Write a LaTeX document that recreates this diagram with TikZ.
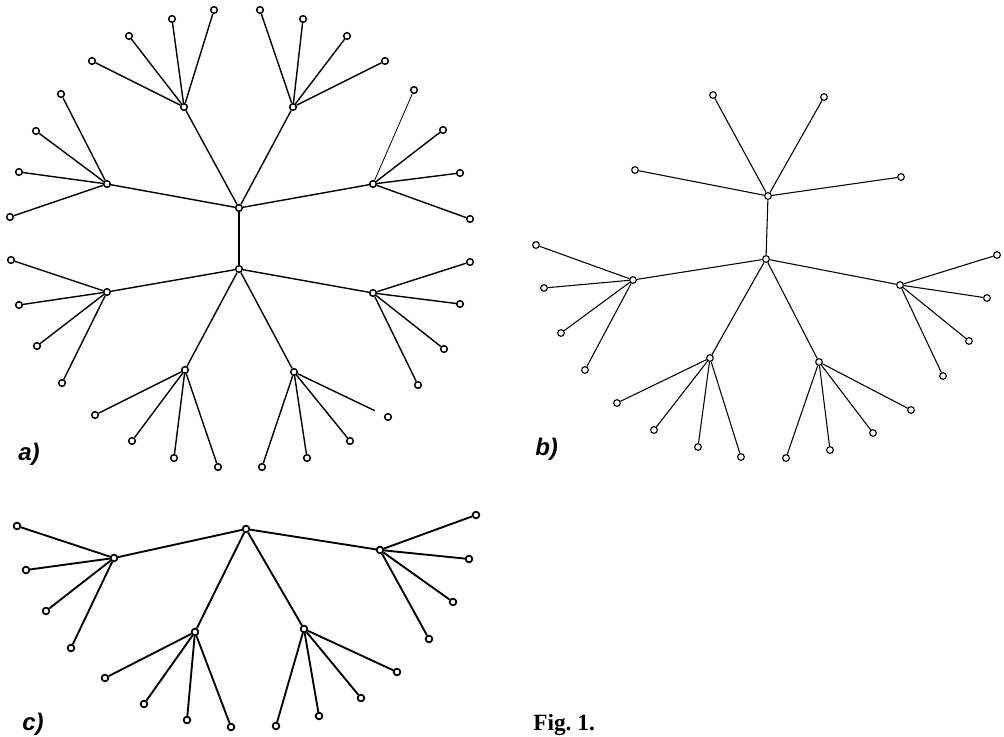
\documentclass[tikz,border=0pt]{standalone}
\usepackage{fontspec}
\newfontfamily\labfont{Liberation Sans}
\newfontfamily\capfont{Liberation Serif}
\tikzset{
  px/.style={x=0.75pt,y=-0.75pt},
  vx/.style={circle,draw,fill=white,inner sep=0pt,minimum size=5pt},
  edge/.style={line width=1.05pt},
  edgeb/.style={line width=0.8pt},
  edgec/.style={line width=1.4pt},
  tag/.style={font=\labfont\bfseries\itshape\fontsize{18}{18}\selectfont,inner sep=0pt},
}
\begin{document}
\begin{tikzpicture}[px]
\useasboundingbox (0,0) rectangle (1004,737);

% ---------- tree a ----------
\begin{scope}[every node/.style={vx,line width=1.1pt}]
  \node (a0) at (239,208) {};
  \node (a1) at (239,269) {};
  \node (aH1) at (184,107) {};
  \node (aH2) at (293,107) {};
  \node (aH3) at (107,184) {};
  \node (aH4) at (373,184) {};
  \node (aH5) at (107,292) {};
  \node (aH6) at (373,293) {};
  \node (aH7) at (185,370) {};
  \node (aH8) at (294,372) {};
\end{scope}
\draw[edge] (a0) -- (a1);
\foreach \h in {aH1,aH2,aH3,aH4} \draw[edge] (a0) -- (\h);
\foreach \h in {aH5,aH6,aH7,aH8} \draw[edge] (a1) -- (\h);

\foreach \h/\pts in {
  aH1/{214/10,172/19,129/36,92/61},
  aH2/{260/10,303/19,347/36,385/61},
  aH3/{61/94,36/131,19/172,10/217},
  aH5/{11/260,19/305,37/346,62/383},
  aH6/{470/262,460/304,444/349,418/385},
  aH7/{95/415,132/441,174/458,218/467}}{
  \foreach \x/\y [count=\i] in \pts {
    \node[vx,line width=1.1pt] (\h-\i) at (\x,\y) {};
    \draw[edge] (\h) -- (\h-\i);
  }
}
% hub with a faint first branch
\foreach \x/\y [count=\i] in {414/90,443/130,460/173,470/219} {
  \node[vx,line width=1.1pt] (aH4-\i) at (\x,\y) {};
}
\draw[line width=0.6pt] (aH4) -- (aH4-1);
\foreach \i in {2,3,4} \draw[edge] (aH4) -- (aH4-\i);
% hub with a branch stopping short of its end vertex
\foreach \x/\y [count=\i] in {388/417,350/441,307/458,262/467} {
  \node[vx,line width=1.1pt] (aH8-\i) at (\x,\y) {};
}
\draw[edge,shorten >=8pt] (aH8) -- (aH8-1);
\foreach \i in {2,3,4} \draw[edge] (aH8) -- (aH8-\i);

\node[tag,anchor=base west] (la) at (18,461) {a)};

% ---------- tree b ----------
\begin{scope}[every node/.style={vx,line width=0.85pt}]
  \node (b0) at (766,259) {};
  \node (bT) at (768,196) {};
  \node (bL) at (633,280) {};
  \node (bR) at (900,285) {};
  \node (bLL) at (710,358) {};
  \node (bLR) at (819,362) {};
\end{scope}
\foreach \h in {bT,bL,bR,bLL,bLR} \draw[edgeb] (b0) -- (\h);
\foreach \h/\pts in {
  bT/{713/95,824/97,635/170,901/177},
  bL/{536/245,544/288,561/333,585/370},
  bR/{997/255,987/298,969/341,943/376},
  bLL/{617/403,654/430,698/447,741/457},
  bLR/{911/410,873/433,830/450,786/458}}{
  \foreach \x/\y [count=\i] in \pts {
    \node[vx,line width=0.85pt] (\h-\i) at (\x,\y) {};
    \draw[edgeb] (\h) -- (\h-\i);
  }
}
\node[tag,anchor=base west] (lb) at (535,456) {b)};

% ---------- tree c ----------
\begin{scope}[every node/.style={vx,line width=1.3pt}]
  \node (c0) at (246,529) {};
  \node (cL) at (114,558) {};
  \node (cR) at (380,550) {};
  \node (cLL) at (195,632) {};
  \node (cLR) at (304,629) {};
\end{scope}
\foreach \h in {cL,cR,cLL,cLR} \draw[edgec] (c0) -- (\h);
\foreach \h/\pts in {
  cL/{17/526,26/570,46/611,71/648},
  cR/{476/515,469/559,453/602,429/639},
  cLL/{105/678,144/704,187/720,231/727},
  cLR/{397/672,361/698,319/716,276/726}}{
  \foreach \x/\y [count=\i] in \pts {
    \node[vx,line width=1.3pt] (\h-\i) at (\x,\y) {};
    \draw[edgec] (\h) -- (\h-\i);
  }
}
\node[tag,anchor=base west] (lc) at (22,731) {c)};

% ---------- caption ----------
\node[font=\capfont\bfseries\fontsize{17.5}{17.5}\selectfont,inner sep=0pt,anchor=base west] (cap) at (533,731) {Fig.\ 1.};
\end{tikzpicture}
\end{document}
